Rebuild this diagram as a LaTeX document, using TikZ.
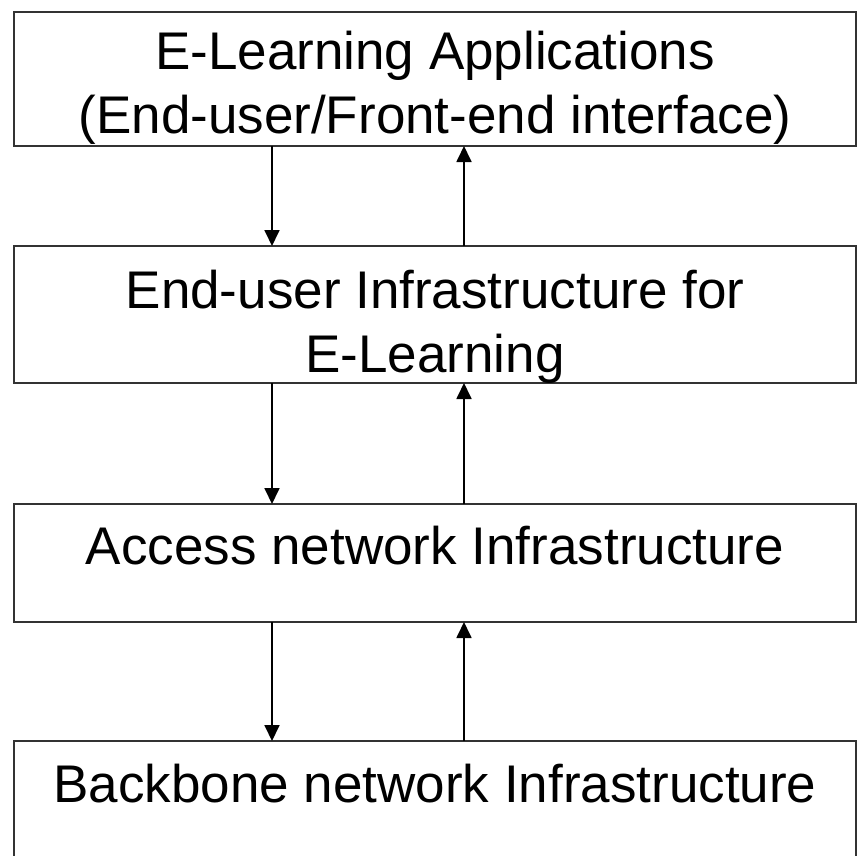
\documentclass[tikz,border=0pt]{standalone}
\usepackage{fontspec}
\setmainfont{Liberation Sans}
\usetikzlibrary{positioning, arrows.meta}

\begin{document}
\begin{tikzpicture}[x=1pt, y=-1pt,
	layer/.style={draw=black!80, line width=2pt, minimum width=842pt, inner sep=0pt, outer sep=0pt},
	caption/.style={anchor=base, align=center, inner sep=0pt, font=\fontsize{53}{64}\selectfont},
	flow/.style={-{Triangle[width=15pt,length=16pt]}, line width=1.8pt}]
	\useasboundingbox (0,0) rectangle (857,855);
	\clip (0,0) rectangle (857,855);
	
	\node[layer, minimum height=134pt] (apps) at (435,79) {};
	
	\node[layer, minimum height=137pt, below=100pt of apps] (enduser) {};
	
	\node[layer, minimum height=118pt, below=121pt of enduser] (access) {};
	
	\node[layer, minimum height=140pt, below=119pt of access] (backbone) {};
	
	% base of a two-line caption is its last line
	\node[caption, yshift=-121pt] (appstext) at (apps.north) {E-Learning Applications\\(End-user/Front-end interface)};
	
	\node[caption, yshift=-126pt] (endusertext) at (enduser.north) {End-user Infrastructure for\\E-Learning};
	
	\node[caption, yshift=-60pt] (accesstext) at (access.north) {Access network Infrastructure};
	
	\node[caption, yshift=-61pt] (backbonetext) at (backbone.north) {Backbone network Infrastructure};
	
	\coordinate (dn) at (272,0);
	\coordinate (up) at (464,0);
	
	\draw[flow] (apps.south -| dn) -- (enduser.north -| dn);
	\draw[flow] (enduser.north -| up) -- (apps.south -| up);
	
	\draw[flow] (enduser.south -| dn) -- (access.north -| dn);
	\draw[flow] (access.north -| up) -- (enduser.south -| up);
	
	\draw[flow] (access.south -| dn) -- (backbone.north -| dn);
	\draw[flow] (backbone.north -| up) -- (access.south -| up);
\end{tikzpicture}
\end{document}
